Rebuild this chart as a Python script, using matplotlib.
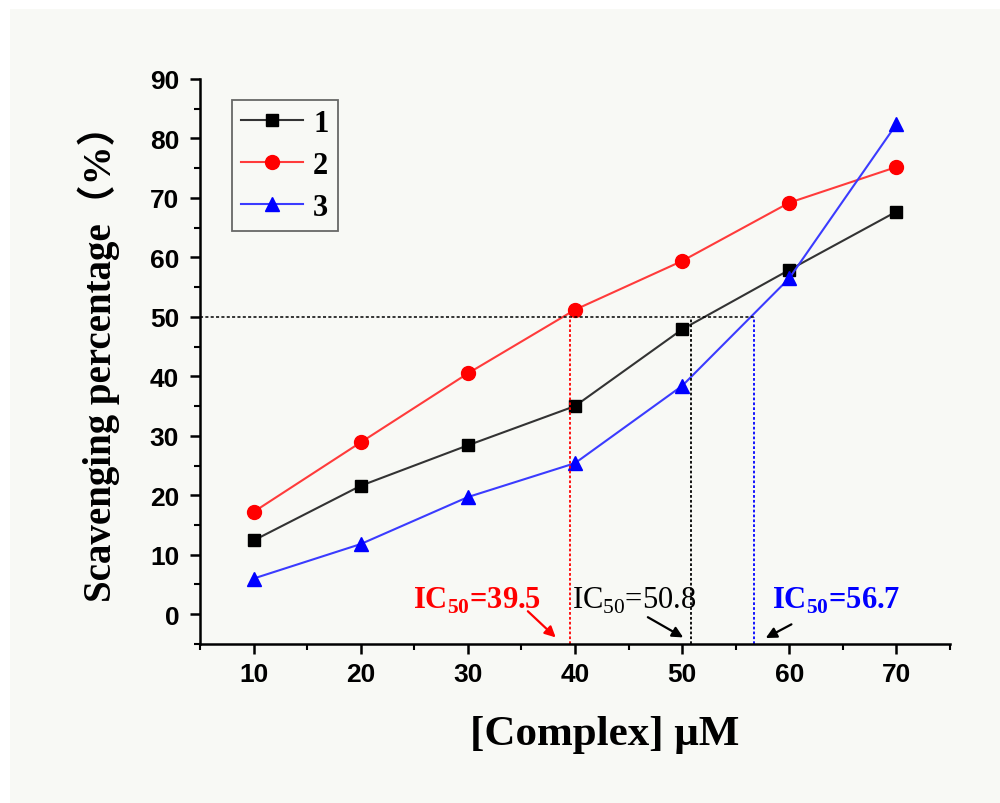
"""
Scavenging percentage vs complex concentration, with IC50 markers.
"""

import matplotlib

matplotlib.use("Agg")
import matplotlib.pyplot as plt
from matplotlib.patches import Rectangle
from matplotlib.ticker import MultipleLocator

conc = [10, 20, 30, 40, 50, 60, 70]
series_labels = ["1", "2", "3"]
scav_1 = [12.4, 21.6, 28.4, 35.0, 47.9, 57.9, 67.7]
scav_2 = [17.2, 28.9, 40.5, 51.2, 59.4, 69.2, 75.2]
scav_3 = [6.0, 11.8, 19.7, 25.4, 38.4, 56.5, 82.4]
ic50_values = [39.5, 50.8, 56.7]

plt.rcParams["mathtext.fontset"] = "custom"
plt.rcParams["mathtext.rm"] = "Liberation Serif"
plt.rcParams["mathtext.bf"] = "Liberation Serif:bold"

fig = plt.figure(figsize=(10, 8.04), dpi=100, facecolor="white")
fig.patches.append(
    Rectangle((0.01, 0.0), 0.99, 0.987, transform=fig.transFigure,
              facecolor="#f8f9f5", edgecolor="none", zorder=-10)
)
ax = fig.add_axes([0.2, 0.1978, 0.75, 0.7027])
ax.set_facecolor("none")

ax.plot(conc, scav_1, color="#333333", lw=1.5, marker="s", ms=8.5,
        mfc="black", mec="black", label=series_labels[0])
ax.plot(conc, scav_2, color="#ff3b3b", lw=1.5, marker="o", ms=10,
        mfc="red", mec="red", label=series_labels[1])
ax.plot(conc, scav_3, color="#3b3bff", lw=1.5, marker="^", ms=10.5,
        mfc="blue", mec="blue", label=series_labels[2])

ax.set_xlim(5, 75)
ax.set_ylim(-5, 90)

# 50 % guide lines
ax.plot([5, ic50_values[2]], [50, 50], color="black", ls=(0, (2, 1.5)), lw=1.1)
for v, c in zip(ic50_values, ["red", "black", "blue"]):
    ax.plot([v, v], [-5, 50], color=c, ls=(0, (1.5, 1.2)), lw=1.3)

arrow_kw = dict(arrowstyle="-|>", lw=1.6, mutation_scale=16,
                shrinkA=0, shrinkB=0)
ax.annotate("", xy=(38.2, -3.9), xytext=(35.6, 0.5),
            arrowprops=dict(color="red", **arrow_kw))
ax.annotate("", xy=(50.1, -3.9), xytext=(46.8, -0.5),
            arrowprops=dict(color="black", **arrow_kw))
ax.annotate("", xy=(57.8, -4.0), xytext=(60.2, -1.7),
            arrowprops=dict(color="black", **arrow_kw))

ic_kw = dict(fontfamily="Liberation Serif", fontsize=22, ha="center",
             va="baseline")
ax.text(30.85, 1.0, r"IC$_{\mathbf{50}}$=39.5", color="red",
        fontweight="bold", **ic_kw)
ax.text(45.5, 1.0, r"IC$_{\mathrm{50}}$=50.8", color="black", **ic_kw)
ax.text(64.4, 1.0, r"IC$_{\mathbf{50}}$=56.7", color="blue",
        fontweight="bold", **ic_kw)

for side in ["top", "right"]:
    ax.spines[side].set_visible(False)
for side in ["left", "bottom"]:
    ax.spines[side].set_linewidth(1.8)

ax.xaxis.set_major_locator(MultipleLocator(10))
ax.xaxis.set_minor_locator(MultipleLocator(5))
ax.set_yticks(range(0, 91, 10))
ax.yaxis.set_minor_locator(MultipleLocator(5))
ax.tick_params(which="major", direction="out", length=7, width=1.8,
               labelsize=19)
ax.tick_params(axis="x", which="major", pad=6)
ax.tick_params(axis="y", which="major", pad=8)
ax.tick_params(which="minor", direction="out", length=4, width=1.5)
for lbl in ax.get_xticklabels() + ax.get_yticklabels():
    lbl.set_fontfamily("Liberation Sans")
    lbl.set_fontweight("bold")

ax.set_xlabel("[Complex] μM", fontfamily="Liberation Serif",
              fontweight="bold", fontsize=31)
ax.xaxis.set_label_coords(0.54, -0.125)
ax.set_ylabel("Scavenging percentage（%）",
              fontfamily=["Liberation Serif", "Noto Sans CJK SC"],
              fontweight="bold", fontsize=28)
ax.yaxis.set_label_coords(-0.106, 0.515)

leg = ax.legend(loc="upper left", bbox_to_anchor=(0.043, 0.963),
                borderaxespad=0,
                prop=dict(family="Liberation Serif", weight="bold", size=22),
                frameon=True, fancybox=False, handlelength=2.0,
                labelspacing=0.42, borderpad=0.3, handletextpad=0.35)
leg.get_frame().set_edgecolor("#444444")
leg.get_frame().set_linewidth(1.3)
leg.get_frame().set_facecolor("none")

fig.savefig("out.png", dpi=100, facecolor=fig.get_facecolor())
